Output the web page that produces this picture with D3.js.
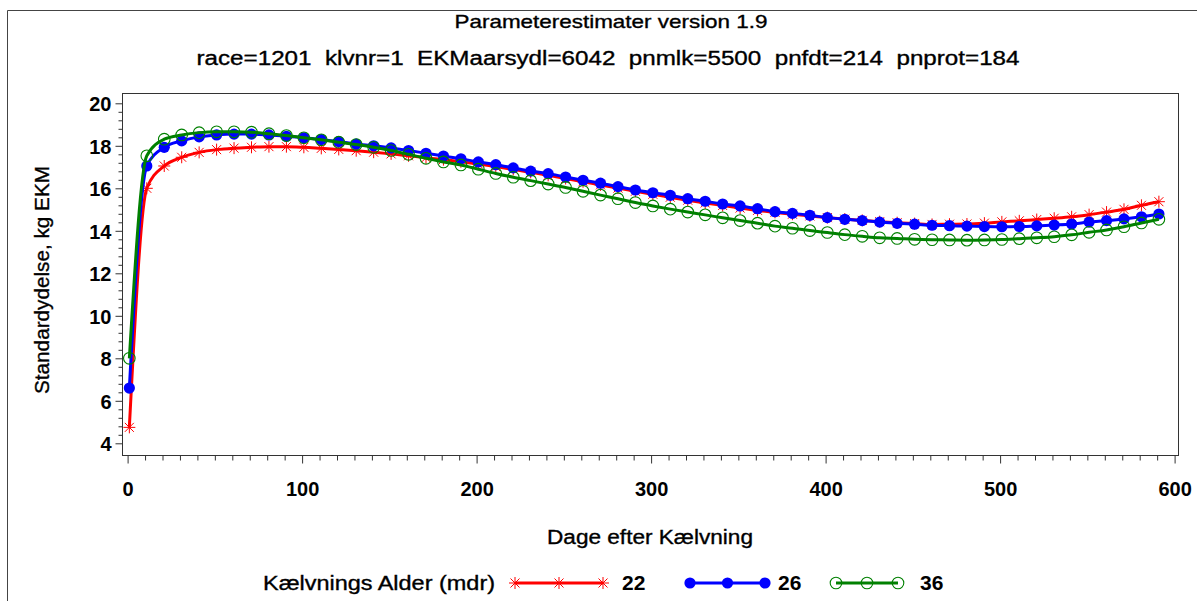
<!DOCTYPE html>
<html>
<head>
<meta charset="utf-8">
<script src="https://cdn.jsdelivr.net/npm/d3@7"></script>
<style>
  html, body { margin: 0; padding: 0; background: #fff; }
  svg text { font-family: "Liberation Sans", Arial, sans-serif; fill: #000; }
</style>
</head>
<body>
<svg id="chart" width="1197" height="601"></svg>
<script>
// ---------- DATA ----------
const days = d3.range(1, 592, 10); // 1, 11, ..., 591
const series22 = [4.75,16.0,17.05,17.46,17.69,17.82,17.89,17.93,17.96,17.96,17.93,17.88,17.83,17.77,17.70,17.62,17.53,
  17.44,17.35,17.25,17.14,17.02,16.89,16.75,16.61,16.46,16.31,16.16,16.01,15.86,15.72,15.58,15.44,15.31,15.19,15.07,14.96,
  14.87,14.78,14.70,14.62,14.55,14.49,14.43,14.38,14.34,14.30,14.31,14.32,14.36,14.42,14.47,14.53,14.59,14.66,14.76,14.88,15.01,15.20,15.37];
const series26 = [6.6,17.05,17.93,18.23,18.42,18.51,18.55,18.55,18.51,18.45,18.38,18.29,18.20,18.08,18.00,17.90,17.78,
  17.65,17.52,17.39,17.24,17.11,16.96,16.81,16.69,16.53,16.38,16.24,16.08,15.92,15.79,15.67,15.51,15.39,15.26,15.17,15.04,
  14.90,14.82,14.73,14.62,14.54,14.48,14.41,14.35,14.31,14.26,14.24,14.22,14.20,14.19,14.20,14.23,14.27,14.32,14.41,14.48,14.56,14.66,14.79];
const series36 = [8.0,17.53,18.31,18.51,18.62,18.66,18.66,18.64,18.57,18.48,18.38,18.28,18.17,18.06,17.93,17.78,17.60,
  17.41,17.24,17.10,16.90,16.70,16.52,16.36,16.20,16.04,15.86,15.68,15.51,15.33,15.17,15.02,14.88,14.75,14.61,14.48,14.36,
  14.22,14.12,14.01,13.92,13.82,13.74,13.67,13.64,13.60,13.58,13.57,13.56,13.57,13.59,13.63,13.67,13.72,13.81,13.93,14.04,14.19,14.37,14.54];
const seriesNames = ["22", "26", "36"];
const xTicks = [0, 100, 200, 300, 400, 500, 600];
const yTicks = [4, 6, 8, 10, 12, 14, 16, 18, 20];
const titleText = "Parameterestimater version 1.9";
const subtitleText = "race=1201  klvnr=1  EKMaarsydl=6042  pnmlk=5500  pnfdt=214  pnprot=184";
const xLabel = "Dage efter Kælvning";
const yLabel = "Standardydelse, kg EKM";
const legendTitle = "Kælvnings Alder (mdr)";

// ---------- STYLE ----------
const colors = {"22": "#ff0000", "26": "#0000ff", "36": "#008000"};
const svg = d3.select("#chart");

const frame = {left: 122, right: 1178, top: 93, bottom: 455};
const x = d3.scaleLinear().domain([0, 600]).range([127.6, 1174.6]);
const y = d3.scaleLinear().domain([4, 20]).range([443.3, 103.3]);

// outer border
svg.append("path")
  .attr("d", "M7.5,601 L7.5,10.5 L1197,10.5")
  .attr("fill", "none").attr("stroke", "#444").attr("stroke-width", 1);

// titles
svg.append("text").attr("x", 611).attr("y", 28).attr("text-anchor", "middle")
  .attr("font-size", 19).attr("textLength", 313).attr("lengthAdjust", "spacingAndGlyphs")
  .style("stroke", "#000").style("stroke-width", 0.35).text(titleText);
svg.append("text").attr("x", 608).attr("y", 65).attr("text-anchor", "middle")
  .attr("font-size", 20).attr("textLength", 823).attr("lengthAdjust", "spacingAndGlyphs")
  .attr("xml:space", "preserve")
  .style("stroke", "#000").style("stroke-width", 0.35).text(subtitleText);

// plot frame
svg.append("rect")
  .attr("x", frame.left + 0.5).attr("y", frame.top + 0.5)
  .attr("width", frame.right - frame.left).attr("height", frame.bottom - frame.top)
  .attr("fill", "none").attr("stroke", "#333").attr("stroke-width", 1);

// y axis
const yMinor = d3.range(4, 20.001, 0.4).filter(v => !yTicks.some(t => Math.abs(t - v) < 1e-6));
const yAxisG = svg.append("g").attr("transform", `translate(${frame.left + 0.5},0)`);
yAxisG.call(d3.axisLeft(y).tickValues(yMinor).tickSize(4).tickFormat(""));
yAxisG.call(g => g.select(".domain").remove());
const yMajG = svg.append("g").attr("transform", `translate(${frame.left + 0.5},0)`);
yMajG.call(d3.axisLeft(y).tickValues(yTicks).tickSize(7).tickPadding(4).tickFormat(d3.format("d")));
yMajG.select(".domain").remove();
yMajG.selectAll("text").attr("font-size", 20).attr("font-weight", "bold")
  .style("font-family", '"Liberation Sans", Arial, sans-serif').attr("dy", "0.36em");
svg.selectAll(".tick line").attr("stroke", "#333");

// x axis
const xMinor = d3.range(0, 601, 10).filter(v => v % 100 !== 0);
const xAxisG = svg.append("g").attr("transform", `translate(0,${frame.bottom + 0.5})`);
xAxisG.call(d3.axisBottom(x).tickValues(xMinor).tickSize(5).tickFormat(""));
xAxisG.select(".domain").remove();
const xMajG = svg.append("g").attr("transform", `translate(0,${frame.bottom + 0.5})`);
xMajG.call(d3.axisBottom(x).tickValues(xTicks).tickSize(8).tickPadding(18).tickFormat(d3.format("d")));
xMajG.select(".domain").remove();
xMajG.selectAll("text").attr("font-size", 20).attr("font-weight", "bold")
  .style("font-family", '"Liberation Sans", Arial, sans-serif');
svg.selectAll(".tick line").attr("stroke", "#333");

// axis labels
svg.append("text").attr("transform", "translate(49,280) rotate(-90)")
  .attr("text-anchor", "middle").attr("font-size", 20)
  .attr("textLength", 228).attr("lengthAdjust", "spacingAndGlyphs")
  .style("stroke", "#000").style("stroke-width", 0.35).text(yLabel);
svg.append("text").attr("x", 650).attr("y", 544).attr("text-anchor", "middle")
  .attr("font-size", 20).attr("textLength", 206).attr("lengthAdjust", "spacingAndGlyphs")
  .style("stroke", "#000").style("stroke-width", 0.35).text(xLabel);

// ---------- markers ----------
function drawMarker(g, name, cx, cy) {
  const c = colors[name];
  if (name === "22") {
    const r = 6;
    const p = `M${cx - r},${cy} L${cx + r},${cy} M${cx},${cy - r} L${cx},${cy + r} ` +
      `M${cx - r * 0.75},${cy - r * 0.75} L${cx + r * 0.75},${cy + r * 0.75} ` +
      `M${cx - r * 0.75},${cy + r * 0.75} L${cx + r * 0.75},${cy - r * 0.75}`;
    g.append("path").attr("d", p).attr("stroke", c).attr("stroke-width", 1).attr("fill", "none");
  } else if (name === "26") {
    g.append("circle").attr("cx", cx).attr("cy", cy).attr("r", 5.6).attr("fill", c);
  } else {
    g.append("circle").attr("cx", cx).attr("cy", cy).attr("r", 5.8)
      .attr("fill", "none").attr("stroke", c).attr("stroke-width", 1.1);
  }
}

const allSeries = {"22": series22, "26": series26, "36": series36};
const line = d3.line().x(d => x(d[0])).y(d => y(d[1])).curve(d3.curveMonotoneX);
const plotG = svg.append("g");
seriesNames.forEach(name => {
  const pts = days.map((d, i) => [d, allSeries[name][i]]);
  const g = plotG.append("g");
  g.append("path").datum(pts).attr("d", line)
    .attr("fill", "none").attr("stroke", colors[name]).attr("stroke-width", 3);
  pts.forEach(p => drawMarker(g, name, x(p[0]), y(p[1])));
});

// ---------- legend ----------
const legY = 583;
svg.append("text").attr("x", 263).attr("y", legY + 7).attr("font-size", 20)
  .attr("textLength", 232).attr("lengthAdjust", "spacingAndGlyphs")
  .style("stroke", "#000").style("stroke-width", 0.35).text(legendTitle);
const legItems = [
  {name: "22", x0: 515, x1: 603, tx: 622},
  {name: "26", x0: 690, x1: 765, tx: 778},
  {name: "36", x0: 836, x1: 898, tx: 920}
];
legItems.forEach(it => {
  const g = svg.append("g");
  g.append("line").attr("x1", it.x0).attr("x2", it.x1).attr("y1", legY).attr("y2", legY)
    .attr("stroke", colors[it.name]).attr("stroke-width", 3);
  [it.x0, (it.x0 + it.x1) / 2, it.x1].forEach(px => drawMarker(g, it.name, px, legY));
  g.append("text").attr("x", it.tx).attr("y", legY + 7).attr("font-size", 21).attr("font-weight", "bold")
    .text(it.name);
});
</script>
</body>
</html>
